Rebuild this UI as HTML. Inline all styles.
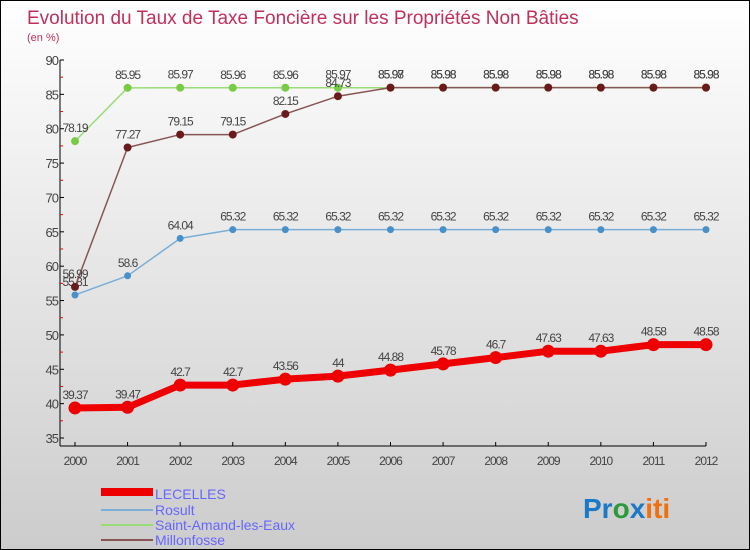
<!DOCTYPE html>
<html><head><meta charset="utf-8"><style>
body{margin:0}
#c{width:750px;height:550px;position:relative;box-sizing:border-box;border:1px solid #000;background:linear-gradient(#fff,#ccc);font-family:"Liberation Sans",sans-serif;overflow:hidden}
</style></head><body>
<div id="c">
<svg width="748" height="548" style="position:absolute;left:0;top:0" id="svg">
<text x="26" y="23" font-size="19" fill="#c0305a">Evolution du Taux de Taxe Foncière sur les Propriétés Non Bâties</text>
<text x="26" y="40" font-size="11" fill="#c0305a">(en %)</text>
<g id="axes"></g><g id="series"></g>
<g id="legend" font-size="14" fill="#66f">
<rect x="100" y="487" width="52" height="8" fill="#e00"/>
<text x="154" y="498" fill="#6666ff">LECELLES</text>
<rect x="100" y="508" width="52" height="2" fill="#7aaed6"/>
<text x="154" y="514" fill="#6666ff">Rosult</text>
<rect x="100" y="523" width="52" height="2" fill="#99dd77"/>
<text x="154" y="529" fill="#6666ff">Saint-Amand-les-Eaux</text>
<rect x="100" y="538" width="52" height="2" fill="#885555"/>
<text x="154" y="544" fill="#6666ff">Millonfosse</text>
</g>
<g font-size="28" font-weight="bold">
<text x="582" y="517" fill="#1a7ac8">Pr<tspan fill="#2a9a3a">o</tspan><tspan fill="#1a7ac8">x</tspan><tspan fill="#f07010">iti</tspan></text>
</g>
</svg>
</div>
<script>
const years=[2000,2001,2002,2003,2004,2005,2006,2007,2008,2009,2010,2011,2012];
const yTicks=[35,40,45,50,55,60,65,70,75,80,85,90];
const lecelles=[39.37,39.47,42.7,42.7,43.56,44,44.88,45.78,46.7,47.63,47.63,48.58,48.58];
const rosult=[55.81,58.6,64.04,65.32,65.32,65.32,65.32,65.32,65.32,65.32,65.32,65.32,65.32];
const saintAmand=[78.19,85.95,85.97,85.96,85.96,85.97,85.97,85.98,85.98,85.98,85.98,85.98,85.98];
const millonfosse=[56.99,77.27,79.15,79.15,82.15,84.73,85.98,85.98,85.98,85.98,85.98,85.98,85.98];
const NS='http://www.w3.org/2000/svg';
const X=i=>74+i*(705-74)/(years.length-1);
const Y=v=>437-(v-35)*(437-59)/55;
function mk(t,a,p){const e=document.createElementNS(NS,t);for(const k in a)e.setAttribute(k,a[k]);p.appendChild(e);return e;}
const ax=document.getElementById('axes');
const yl=mk('line',{x1:59,y1:Y(90),x2:59,y2:Y(35)+8,stroke:'#000'},ax);


const xl=mk('line',{x1:59,y1:445,x2:705,y2:445,stroke:'#000'},ax);


yTicks.forEach(v=>{
  mk('line',{x1:59,y1:Y(v),x2:63,y2:Y(v),stroke:'#000'},ax);
  if(v<90)mk('line',{x1:59,y1:Y(v+2.5),x2:62,y2:Y(v+2.5),stroke:'#e00'},ax);
  const t=mk('text',{x:57,y:Y(v)+5,'text-anchor':'end','font-size':13,fill:'#444','letter-spacing':'-1'},ax);
  t.textContent=v;
  
  
});
years.forEach((y,i)=>{
  mk('line',{x1:X(i),y1:441,x2:X(i),y2:445,stroke:'#000'},ax);
  const t=mk('text',{x:X(i),y:464,'text-anchor':'middle','font-size':12,fill:'#444','letter-spacing':'-1'},ax);
  t.textContent=y;
  
  
});
const sg=document.getElementById('series');
function series(vals,color,lw,r,dot,name){
  const g=mk('g',{},sg);
  
  
  mk('polyline',{points:vals.map((v,i)=>X(i)+','+Y(v)).join(' '),fill:'none',stroke:color,'stroke-width':lw,'stroke-linejoin':'round'},g);
  vals.forEach((v,i)=>{
    const c=mk('circle',{cx:X(i),cy:Y(v),r:r,fill:dot},g);
    
    
    const t=mk('text',{x:X(i),y:Y(v)-9,'text-anchor':'middle','font-size':12,fill:'#444','letter-spacing':'-1'},g);
    t.textContent=String(v);
    
    
  });
}
series(saintAmand,'#99dd77',1.5,4,'#77cc44','saint-amand');
series(rosult,'#7aaed6',1.5,3.5,'#4a90c8','rosult');
series(millonfosse,'#885555',1.5,4,'#6a1a1a','millonfosse');
series(lecelles,'#ee0000',7,6.5,'#ee0000','lecelles');
</script>
</body></html>
